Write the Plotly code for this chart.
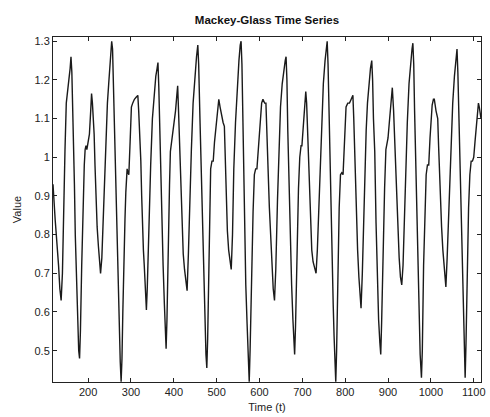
import plotly.graph_objects as go

time_t = [118,120,123,125,128,131,134,137,140,143,146,149,152,155,158,160,162,164,166,168,170,172,174,176,178,180,182,185,187,189,191,193,195,197,200,203,206,208,210,212,214,216,218,221,224,226,229,232,235,238,242,245,248,251,255,257,259,262,265,268,270,272,275,277,279,281,283,286,288,291,293,295,298,301,304,308,312,316,318,321,323,325,327,329,331,334,336,338,340,342,346,350,354,358,361,363,365,367,369,372,375,378,380,382,384,387,390,392,395,398,401,404,407,409,411,414,417,419,422,425,428,431,434,437,441,445,449,453,456,458,461,463,466,469,471,473,475,477,479,482,484,486,489,492,495,500,503,505,508,512,515,518,520,522,525,528,531,534,537,540,544,548,552,555,557,559,561,563,566,568,571,573,576,578,580,582,585,588,591,594,597,599,602,605,608,612,615,618,620,623,626,629,632,635,638,642,645,649,653,657,660,662,664,666,668,671,673,675,678,680,682,684,686,688,691,694,697,699,702,705,708,710,713,717,720,722,725,729,732,735,738,741,745,749,753,756,758,760,762,764,767,770,772,774,776,778,780,783,786,789,792,795,798,802,806,810,814,818,820,823,826,829,832,835,837,840,843,845,849,852,856,859,862,864,866,869,872,875,878,881,883,885,887,889,892,895,898,900,903,906,908,910,913,916,920,923,926,929,932,935,938,941,945,949,953,956,958,960,962,965,968,970,972,975,978,980,983,986,989,992,995,998,1001,1003,1006,1008,1012,1016,1018,1021,1025,1028,1031,1035,1038,1043,1047,1051,1055,1058,1061,1063,1066,1068,1071,1074,1076,1078,1080,1082,1085,1088,1091,1094,1097,1100,1103,1106,1109,1111,1113,1115,1117]

value = [0.93,0.88,0.84,0.81,0.77,0.72,0.66,0.63,0.70,0.89,1.02,1.14,1.18,1.20,1.23,1.26,1.22,1.13,1.06,0.93,0.80,0.71,0.63,0.56,0.50,0.48,0.55,0.72,0.84,0.93,0.98,1.02,1.03,1.02,1.04,1.06,1.12,1.165,1.14,1.10,1.06,0.98,0.89,0.82,0.77,0.73,0.70,0.74,0.84,0.95,1.06,1.14,1.19,1.24,1.30,1.28,1.19,1.02,0.86,0.72,0.63,0.55,0.47,0.42,0.48,0.60,0.72,0.84,0.91,0.97,0.96,0.955,1.04,1.13,1.14,1.15,1.155,1.16,1.12,1.05,0.99,0.90,0.80,0.76,0.72,0.65,0.605,0.66,0.75,0.84,0.98,1.10,1.17,1.21,1.23,1.245,1.18,1.07,0.97,0.85,0.72,0.62,0.55,0.505,0.58,0.80,0.93,1.015,1.04,1.06,1.09,1.12,1.16,1.185,1.12,1.015,0.89,0.80,0.75,0.71,0.68,0.655,0.75,0.89,1.02,1.14,1.21,1.26,1.29,1.24,1.10,1.015,0.86,0.72,0.63,0.545,0.49,0.455,0.53,0.72,0.86,0.97,0.99,0.99,1.04,1.10,1.13,1.15,1.13,1.10,1.09,1.08,1.00,0.89,0.81,0.76,0.73,0.71,0.80,0.97,1.09,1.19,1.25,1.29,1.30,1.24,1.10,0.97,0.80,0.67,0.57,0.49,0.42,0.50,0.62,0.72,0.86,0.955,0.97,0.97,1.02,1.06,1.11,1.14,1.15,1.14,1.14,1.06,0.97,0.87,0.80,0.72,0.66,0.63,0.71,0.89,1.02,1.13,1.19,1.23,1.25,1.26,1.20,1.07,0.97,0.81,0.72,0.67,0.58,0.52,0.49,0.56,0.68,0.80,0.92,1.00,1.03,1.03,1.07,1.12,1.17,1.14,1.05,0.93,0.83,0.76,0.73,0.71,0.70,0.76,0.86,0.97,1.09,1.19,1.25,1.29,1.30,1.24,1.12,1.015,0.86,0.72,0.62,0.54,0.47,0.42,0.50,0.72,0.87,0.955,0.96,0.955,1.03,1.13,1.14,1.14,1.15,1.16,1.10,0.97,0.85,0.76,0.69,0.63,0.61,0.70,0.85,0.93,1.07,1.14,1.20,1.23,1.25,1.20,1.10,1.015,0.83,0.67,0.58,0.52,0.49,0.57,0.69,0.80,0.92,1.02,1.04,1.05,1.09,1.13,1.16,1.18,1.12,1.02,0.89,0.80,0.74,0.69,0.67,0.72,0.85,0.97,1.09,1.19,1.25,1.28,1.295,1.24,1.12,0.97,0.80,0.67,0.58,0.49,0.43,0.50,0.72,0.87,0.955,0.98,0.98,1.05,1.11,1.135,1.15,1.15,1.12,1.10,1.03,0.93,0.82,0.76,0.71,0.665,0.74,0.89,1.03,1.14,1.21,1.25,1.28,1.22,1.08,1.015,0.84,0.67,0.57,0.48,0.43,0.52,0.72,0.87,0.955,0.99,0.99,1.00,1.04,1.08,1.12,1.14,1.13,1.11,1.10]

x_ticks = [200, 300, 400, 500, 600, 700, 800, 900, 1000, 1100]
y_ticks = [0.5, 0.6, 0.7, 0.8, 0.9, 1.0, 1.1, 1.2, 1.3]
y_tick_labels = ["0.5", "0.6", "0.7", "0.8", "0.9", "1", "1.1", "1.2", "1.3"]

fig = go.Figure()
fig.add_trace(go.Scatter(x=time_t, y=value, mode="lines",
                         line=dict(color="#1a1a1a", width=1.4), showlegend=False))

font_family = "Liberation Sans, Arial, sans-serif"
fig.update_layout(
    width=490, height=417,
    margin=dict(l=53, r=5, t=37, b=34),
    paper_bgcolor="white", plot_bgcolor="white",
    font=dict(family=font_family, size=11, color="#222"),
    title=dict(text="<b>Mackey-Glass Time Series</b>", x=0.5, xref="paper",
               xanchor="center", y=0.952, yanchor="middle",
               font=dict(size=11.5, color="#111")),
)
fig.update_xaxes(range=[118, 1117], tickvals=x_ticks, ticks="inside", ticklen=4,
                 tickcolor="#222", showline=True, linecolor="#222", linewidth=1,
                 mirror="ticks", showgrid=False, zeroline=False,
                 title=dict(text="Time (t)", standoff=6, font=dict(size=11)))
fig.update_yaxes(range=[0.419, 1.311], tickvals=y_ticks, ticktext=y_tick_labels,
                 ticks="inside", ticklen=4, tickcolor="#222", showline=True,
                 linecolor="#222", linewidth=1, mirror="ticks", showgrid=False,
                 zeroline=False, title=dict(text="Value", standoff=10, font=dict(size=11)))

fig.write_html("out.html")
